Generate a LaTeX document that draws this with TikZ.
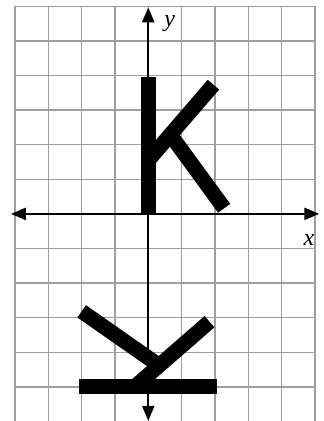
\documentclass[tikz,border=0pt]{standalone}
\usepackage{fontspec}
\setmainfont{Liberation Serif}
\usetikzlibrary{arrows.meta}
\begin{document}
\begin{tikzpicture}[x=33.33pt,y=34.6pt,
  gridline/.style={draw=black!38,line width=1.4pt},
  axisline/.style={line width=2.4pt,{Triangle[length=15pt,width=12pt]}-{Triangle[length=15pt,width=12pt]}},
  kstroke/.style={line width=15pt,line cap=butt,draw=black},
  lab/.style={font=\fontsize{24}{24}\selectfont\itshape,inner sep=0pt}]
\useasboundingbox (-4.449,-5.986) rectangle (5.2715,6.182);
\draw[gridline,step=1] (-4,-6) grid (5,6);
% original K
\draw[kstroke] (0,0) -- (0,3.95);
\draw[kstroke] (0,1.55) -- (1.956,3.734);
\draw[kstroke] (0.663,2.289) -- (2.277,0.162);
% transformed K
\draw[kstroke] (-2.07,-5) -- (2.07,-5);
\draw[kstroke] (-0.41,-5) -- (1.836,-3.116);
\draw[kstroke] (-2.0,-2.815) -- (0.327,-4.382);
% axes
\coordinate (xl) at (-4.12,0);
\coordinate (xr) at (5.13,0);
\coordinate (yb) at (0,-5.98);
\coordinate (yt) at (0,5.97);
\draw[axisline] (xl) -- (xr);
\draw[axisline] (yb) -- (yt);
\node[lab] (ylab) at (0.64,5.49) {y};
\node[lab] (xlab) at (4.82,-0.74) {x};
\end{tikzpicture}
\end{document}
